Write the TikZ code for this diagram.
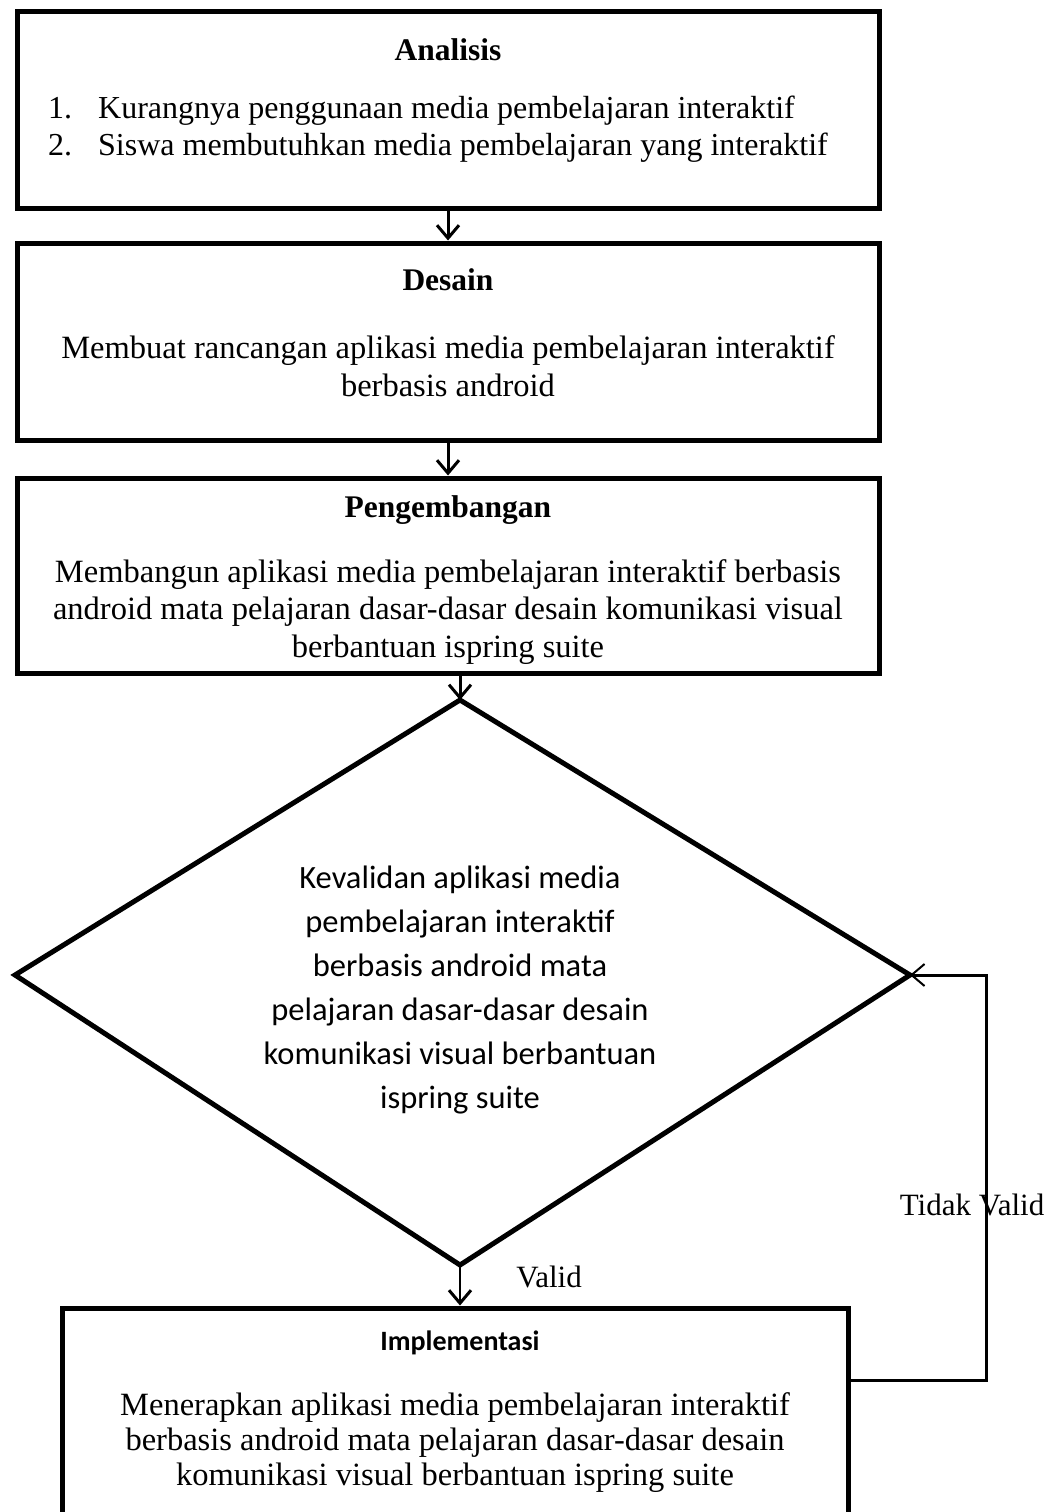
\documentclass[tikz,border=0pt]{standalone}
\usepackage{fontspec}
\setmainfont{Liberation Serif}
\newfontfamily\calibri{Carlito}
\usetikzlibrary{arrows.meta}

\begin{document}
\begin{tikzpicture}[x=1pt,y=-1pt,
    box/.style={draw, line width=5pt, minimum width=862pt, inner sep=0},
    body/.style={font=\fontsize{32.5}{37.5}\selectfont, align=center, inner sep=0},
    head/.style={font=\fontsize{31.5}{36}\selectfont\bfseries, inner sep=0},
    item/.style={font=\fontsize{32}{36}\selectfont, inner sep=0, anchor=base west},
    arr/.style={line width=3pt, -{Straight Barb[length=13pt,width=22pt,line width=3pt]}},
    ]
    \useasboundingbox (0,0) rectangle (1057,1512);
    \clip (0,0) rectangle (1057,1512);

    % Analisis
    \node[box, minimum height=196pt] (ana) at (448,110) {};
    \node[head] (anaT) at (448,50) {Analisis};
    \node[item] (n1) at (48,118) {1.};
    \node[item] (i1) at (98,118) {Kurangnya penggunaan media pembelajaran interaktif};
    \node[item] (n2) at (48,155) {2.};
    \node[item] (i2) at (98,155) {Siswa membutuhkan media pembelajaran yang interaktif};

    % Desain
    \node[box, minimum height=197pt] (des) at (448,341.5) {};
    \node[head] (desT) at (448,280) {Desain};
    \node[body] (desB) at (448,366) {Membuat rancangan aplikasi media pembelajaran interaktif\\berbasis android};

    % Pengembangan
    \node[box, minimum height=195pt] (pen) at (448,575.5) {};
    \node[head] (penT) at (448,510) {Pengembangan};
    \node[body] (penB) at (448,612) {Membangun aplikasi media pembelajaran interaktif berbasis\\android mata pelajaran dasar-dasar desain komunikasi visual\\berbantuan ispring suite};

    % Kevalidan
    \coordinate (dtop) at (460,700);
    \coordinate (dright) at (910,975);
    \coordinate (dbot) at (460,1265);
    \coordinate (dleft) at (15,975);
    \draw[line width=5pt, line join=miter] (dtop) -- (dright) -- (dbot) -- (dleft) -- cycle;
    \node[font=\calibri\fontsize{32.5}{44}\selectfont, align=center, inner sep=0] (valT) at (460,990)
        {Kevalidan aplikasi media\\pembelajaran interaktif\\berbasis android mata\\pelajaran dasar-dasar desain\\komunikasi visual berbantuan\\ispring suite};

    % Implementasi
    \node[box, minimum width=786pt, minimum height=234pt] (imp) at (455,1425) {};
    \node[font=\calibri\fontsize{28}{32}\selectfont\bfseries, inner sep=0] (impT) at (460,1343) {Implementasi};
    \node[body, font=\fontsize{32.5}{35}\selectfont] (impB) at (455,1443) {Menerapkan aplikasi media pembelajaran interaktif\\berbasis android mata pelajaran dasar-dasar desain\\komunikasi visual berbantuan ispring suite};

    \draw[arr] (ana.south) -- (des.north);
    \draw[arr] (des.south) -- (pen.north);
    \draw[arr] (dtop |- pen.south) -- (dtop);
    \draw[arr, line width=2pt] (dbot) -- (dbot |- imp.north);
    \node[font=\fontsize{31}{36}\selectfont, inner sep=0] (valid) at (549,1277) {Valid};

    \coordinate (tv) at (986,975);
    \draw[line width=3pt, -{Straight Barb[length=13pt,width=22pt,line width=2pt]}]
        ([yshift=45pt]imp.east) -| (tv) -- (dright);
    \node[font=\fontsize{31}{36}\selectfont, inner sep=0] (tidak) at (972,1205) {Tidak Valid};
\end{tikzpicture}
\end{document}
